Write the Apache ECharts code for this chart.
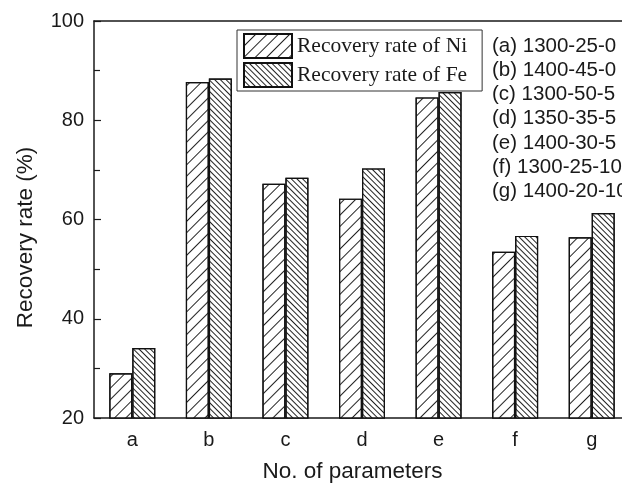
<!DOCTYPE html>
<html>
<head>
<meta charset="utf-8">
<script src="https://cdn.jsdelivr.net/npm/echarts@6/dist/echarts.min.js"></script>
<style>
html,body{margin:0;padding:0;background:#fff;}
#chart{width:622px;height:485px;}
</style>
</head>
<body>
<div id="chart"></div>
<script>
var categories = ['a', 'b', 'c', 'd', 'e', 'f', 'g'];
var niValues = [29.0, 87.7, 67.2, 64.2, 84.6, 53.5, 56.4];
var feValues = [34.1, 88.4, 68.4, 70.3, 85.7, 56.7, 61.3];
var seriesNames = ['Recovery rate of Ni', 'Recovery rate of Fe'];
var paramLabels = ['(a) 1300-25-0', '(b) 1400-45-0', '(c) 1300-50-5', '(d) 1350-35-5', '(e) 1400-30-5', '(f) 1300-25-10', '(g) 1400-20-10'];
var yMin = 20, yMax = 100, yStep = 20;

var topTicks = [];
for (var i = 0; i < categories.length * 2; i++) topTicks.push('');

var chart = echarts.init(document.getElementById('chart'), null, {renderer: 'canvas'});
var axisCol = '#1a1a1a';
var sans = 'Liberation Sans, Arial, sans-serif';

chart.setOption({
  animation: false,
  backgroundColor: '#fff',
  grid: {left: 94, top: 21, width: 536, height: 397, containLabel: false, outerBoundsMode: 'none'},
  legend: {
    left: 237, top: 30,
    orient: 'vertical',
    icon: 'rect',
    itemWidth: 48, itemHeight: 24, itemGap: 3,
    padding: [3, 15, 3, 6],
    borderColor: '#333', borderWidth: 1,
    textStyle: {fontFamily: 'Liberation Serif, Times New Roman, serif', fontSize: 21.5, lineHeight: 24, color: '#1a1a1a'},
    data: seriesNames
  },
  xAxis: [{
    type: 'category',
    data: categories,
    position: 'bottom',
    axisLine: {lineStyle: {color: axisCol, width: 1.5}},
    axisTick: {inside: true, length: 4, interval: 0, lineStyle: {color: axisCol}},
    axisLabel: {fontFamily: sans, fontSize: 20, color: '#1a1a1a', margin: 12},
    name: 'No. of parameters',
    nameLocation: 'middle',
    nameGap: 42,
    nameTextStyle: {fontFamily: sans, fontSize: 22.5, color: '#1a1a1a', padding: [0, 19, 0, 0]}
  }, {
    type: 'category',
    data: topTicks,
    position: 'top',
    axisLine: {lineStyle: {color: axisCol, width: 1.5}},
    axisTick: {inside: true, length: 7, interval: 0, lineStyle: {color: axisCol, width: 1.3}},
    axisLabel: {show: false}
  }],
  yAxis: {
    type: 'value',
    min: yMin, max: yMax, interval: yStep,
    axisLine: {show: true, lineStyle: {color: axisCol, width: 1.5}},
    axisTick: {show: true, inside: true, length: 7, lineStyle: {color: axisCol, width: 1.2}},
    minorTick: {show: true, splitNumber: 2, length: 6, lineStyle: {color: axisCol, width: 1.2}},
    splitLine: {show: false},
    axisLabel: {fontFamily: sans, fontSize: 20, color: '#1a1a1a', margin: 10},
    name: 'Recovery rate (%)',
    nameLocation: 'middle',
    nameGap: 57,
    nameTextStyle: {fontFamily: sans, fontSize: 22.5, color: '#1a1a1a', padding: [0, 36, 0, 0]}
  },
  series: [{
    name: seriesNames[0],
    type: 'bar',
    xAxisIndex: 0,
    data: niValues,
    barWidth: 23,
    barGap: '0%',
    itemStyle: {
      color: '#fff', borderColor: '#111', borderWidth: 1.2,
      decal: {symbol: 'rect', symbolSize: 1, color: '#222', dashArrayX: [1, 0], dashArrayY: [1, 7], rotation: -Math.PI / 4}
    }
  }, {
    name: seriesNames[1],
    type: 'bar',
    xAxisIndex: 0,
    data: feValues,
    barWidth: 23,
    barGap: '0%',
    itemStyle: {
      color: '#fff', borderColor: '#111', borderWidth: 1.2,
      decal: {symbol: 'rect', symbolSize: 1, color: '#222', dashArrayX: [1, 0], dashArrayY: [1, 2.4], rotation: Math.PI / 4}
    }
  }],
  graphic: [{
    type: 'text',
    left: 492, top: 34,
    style: {
      text: paramLabels.join('\n'),
      font: '20.5px ' + sans,
      fill: '#1a1a1a',
      lineHeight: 24.2
    }
  }]
});
</script>
</body>
</html>
